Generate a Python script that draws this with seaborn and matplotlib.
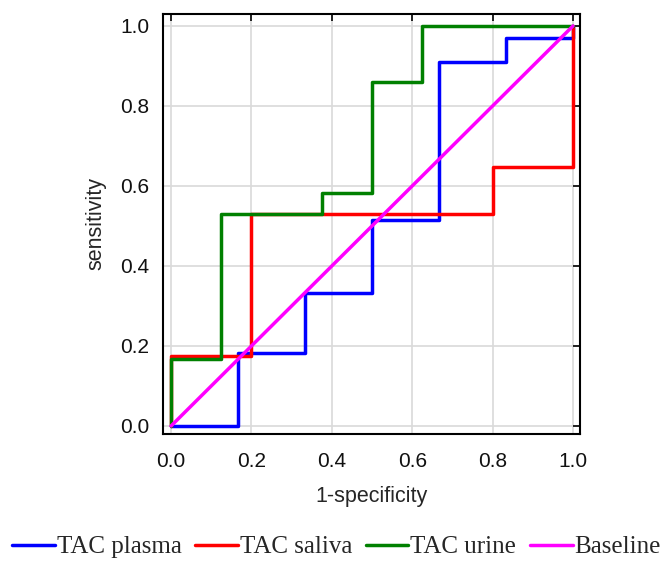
import pandas as pd
import matplotlib
matplotlib.use("Agg")
import matplotlib.pyplot as plt
import seaborn as sns

# ROC points (1-specificity, sensitivity)
plasma_x = [0.0, 0.167, 0.333, 0.5, 0.667, 0.833, 1.0]
plasma_y = [0.0, 0.182, 0.333, 0.515, 0.909, 0.970, 1.0]
saliva_x = [0.0, 0.0, 0.2, 0.8, 1.0]
saliva_y = [0.0, 0.176, 0.529, 0.647, 1.0]
urine_x = [0.0, 0.0, 0.125, 0.375, 0.5, 0.625, 1.0]
urine_y = [0.0, 0.167, 0.529, 0.583, 0.860, 1.0, 1.0]
base_x = [0.0, 1.0]
base_y = [0.0, 1.0]
names = ["TAC plasma", "TAC saliva", "TAC urine", "Baseline"]
colors = {"TAC plasma": "#0000ff", "TAC saliva": "#ff0000",
          "TAC urine": "#008000", "Baseline": "#ff00ff"}

frames = []
for n, xs, ys in zip(names, [plasma_x, saliva_x, urine_x, base_x],
                     [plasma_y, saliva_y, urine_y, base_y]):
    frames.append(pd.DataFrame({"x": xs, "y": ys, "curve": n}))
df = pd.concat(frames, ignore_index=True)

sns.set_style("white")
plt.rcParams["font.family"] = ["Liberation Sans", "DejaVu Sans"]

fig = plt.figure(figsize=(6.69, 5.71), dpi=100)
ax = fig.add_axes([0.2437, 0.24, 0.623, 0.7356])

for n in names:
    sub = df[df["curve"] == n]
    sns.lineplot(data=sub, x="x", y="y", color=colors[n], sort=False,
                 estimator=None, linewidth=2.5, label=n, ax=ax,
                 drawstyle="steps-post" if n != "Baseline" else "default")

ax.set_xlim(-0.02, 1.017)
ax.set_ylim(-0.02, 1.03)
ticks = [0, 0.2, 0.4, 0.6, 0.8, 1.0]
ax.set_xticks(ticks)
ax.set_yticks(ticks)
ax.set_xticklabels([f"{t:.1f}" for t in ticks])
ax.set_yticklabels([f"{t:.1f}" for t in ticks])
ax.grid(True, color="#d9d9d9", linewidth=1.2)
ax.set_axisbelow(True)
for s in ax.spines.values():
    s.set_color("black")
    s.set_linewidth(1.5)
ax.tick_params(direction="in", length=5, width=1.3, top=True, right=True,
               labelsize=15, colors="#111111")
ax.tick_params(axis="x", pad=13)
ax.tick_params(axis="y", pad=10)
ax.set_xlabel("1-specificity", fontsize=15.5, labelpad=11)
ax.set_ylabel("sensitivity", fontsize=15.5, labelpad=10)

ax.get_legend().remove()
handles, labels = ax.get_legend_handles_labels()
fig.legend(handles, labels, loc="center", bbox_to_anchor=(0.503, 0.042),
           ncol=4, frameon=False, handlelength=1.7, handletextpad=0.08,
           columnspacing=0.55, borderpad=0.0,
           prop={"family": "Liberation Serif", "size": 18})

fig.savefig("out.png", dpi=100)
